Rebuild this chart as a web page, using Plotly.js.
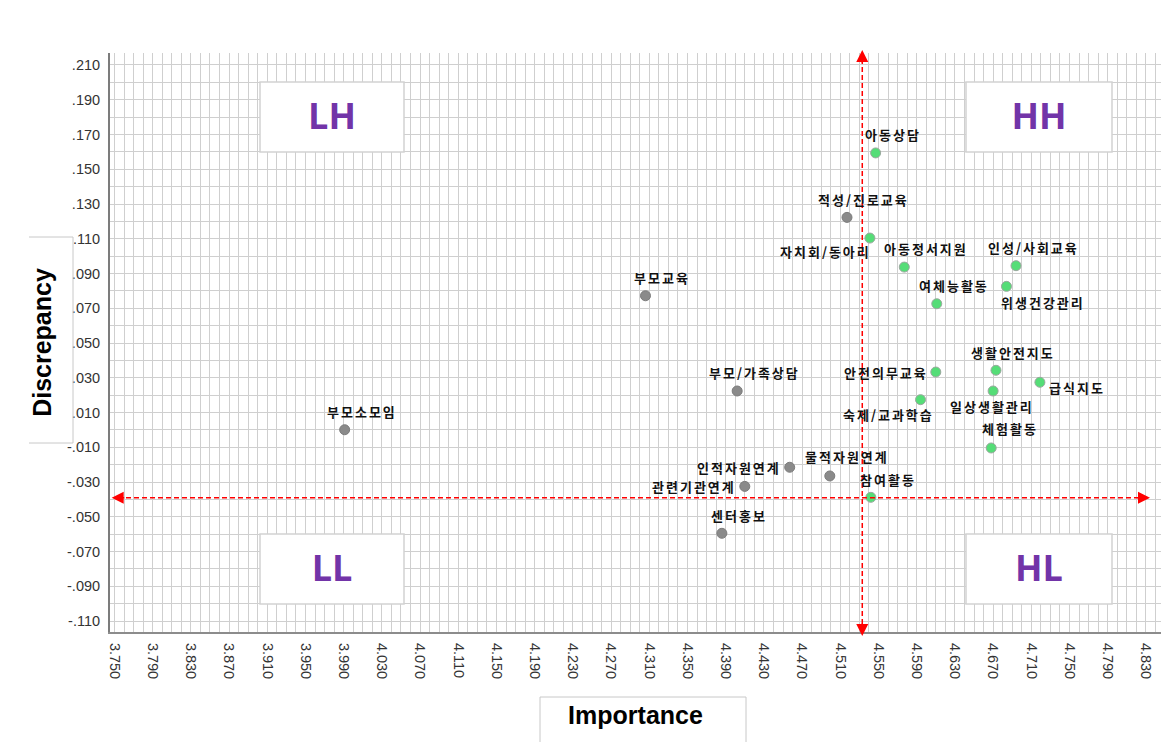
<!DOCTYPE html>
<html>
<head>
<meta charset="utf-8">
<script src="https://cdn.plot.ly/plotly-3.0.1.min.js"></script>
<style>
html,body{margin:0;padding:0;background:#fff;}
#chart{width:1161px;height:742px;}
text.annotation-text{letter-spacing:2px;}
</style>
</head>
<body>
<div id="chart"></div>
<script>
// ---- data ----
const names = ['아동상담','적성/진로교육','자치회/동아리','아동정서지원','인성/사회교육','위생건강관리','여체능활동',
  '부모교육','부모/가족상담','안전의무교육','생활안전지도','급식지도','일상생활관리','숙제/교과학습','체험활동',
  '부모소모임','인적자원연계','물적자원연계','관련기관연계','참여활동','센터홍보'];
const importance = [4.547,4.517,4.541,4.577,4.694,4.684,4.611,
  4.306,4.402,4.610,4.673,4.719,4.670,4.594,4.668,
  3.991,4.457,4.499,4.410,4.542,4.386];
const discrepancy = [0.1594,0.1223,0.1104,0.0937,0.0945,0.0826,0.0726,
  0.0772,0.0224,0.0333,0.0343,0.0274,0.0224,0.0174,-0.0104,
  0.0001,-0.0215,-0.0265,-0.0325,-0.0388,-0.0595];
const refImportance = 4.533;
const refDiscrepancy = -0.039;
const yTickVals = [0.21,0.19,0.17,0.15,0.13,0.11,0.09,0.07,0.05,0.03,0.01,-0.01,-0.03,-0.05,-0.07,-0.09,-0.11];
const yTickText = ['.210','.190','.170','.150','.130','.110','.090','.070','.050','.030','.010','-.010','-.030','-.050','-.070','-.090','-.110'];
const quadrantNames = ['LH','HH','LL','HL'];

// ---- label placement (pixels) ----
const labelPos = {
  '자치회/동아리': {a:'right', dx:3, dy:-13},
  '아동정서지원': {a:'center', dx:22, dy:19},
  '위생건강관리': {a:'left', dx:-7, dy:-16},
  '안전의무교육': {a:'right', dx:-6, dy:0},
  '급식지도': {a:'left', dx:7, dy:-5},
  '일상생활관리': {a:'center', dx:-1, dy:-16},
  '숙제/교과학습': {a:'right', dx:15, dy:-15},
  '체험활동': {a:'center', dx:19, dy:19},
  '인적자원연계': {a:'right', dx:-7, dy:0},
  '관련기관연계': {a:'right', dx:-7, dy:0},
  '물적자원연계': {a:'center', dx:17, dy:19}
};
const defaultPos = {a:'center', dx:17, dy:18};

// ---- layout geometry helpers ----
const W = 1161, H = 742, ML = 110, MT = 53, MB = 110, MR = 0;
const PW = W - ML - MR, PH = H - MT - MB;
const px = x => (x - ML) / PW;
const py = y => (H - MB - y) / PH;

const green = '#55dd77', gray = '#8a8a8a';
const colors = importance.map(v => v >= refImportance ? green : gray);
const lineColors = importance.map(v => v >= refImportance ? '#9aa89e' : '#7c7c7c');

const trace = {
  type: 'scatter', mode: 'markers',
  x: importance, y: discrepancy, text: names,
  marker: {size: 10, color: colors, line: {color: lineColors, width: 1}},
  hoverinfo: 'text+x+y', showlegend: false, cliponaxis: false
};

const annotations = names.map((n, i) => {
  const p = labelPos[n] || defaultPos;
  return {
    x: importance[i], y: discrepancy[i], xref: 'x', yref: 'y',
    text: n, showarrow: false, xanchor: p.a, yanchor: 'middle',
    xshift: p.dx, yshift: p.dy,
    font: {family: 'Noto Sans CJK KR', size: 13, color: '#111', weight: 'bold'}
  };
});

// arrowheads of reference lines
const arrowBase = {text: '', showarrow: true, arrowhead: 2, arrowsize: 1.6, arrowwidth: 1.5, arrowcolor: '#ff0000', axref: 'pixel', ayref: 'pixel', standoff: 0};
annotations.push(Object.assign({}, arrowBase, {x: refImportance, xref: 'x', y: py(50), yref: 'paper', ax: 0, ay: 14}));
annotations.push(Object.assign({}, arrowBase, {x: refImportance, xref: 'x', y: py(636), yref: 'paper', ax: 0, ay: -14}));
annotations.push(Object.assign({}, arrowBase, {x: px(111.7), xref: 'paper', y: refDiscrepancy, yref: 'y', ax: 14, ay: 0}));
annotations.push(Object.assign({}, arrowBase, {x: px(1150), xref: 'paper', y: refDiscrepancy, yref: 'y', ax: -14, ay: 0}));

const boxPix = {LH: [260, 82, 404, 152], HH: [966, 82, 1112, 152], LL: [260, 534, 404, 604], HL: [966, 534, 1112, 604]};
const shapes = [];
quadrantNames.forEach(q => {
  const b = boxPix[q];
  shapes.push({
    type: 'rect', xref: 'paper', yref: 'paper', layer: 'above',
    x0: px(b[0]), x1: px(b[2]), y0: py(b[3]), y1: py(b[1]),
    fillcolor: '#ffffff', line: {color: '#d2d2d2', width: 1.5},
    label: {text: q, textposition: 'middle center',
      font: {family: 'Open Sans', size: 36, color: '#7234a8', weight: 'bold'}}
  });
});
// reference dashed lines
shapes.push({type: 'line', xref: 'x', yref: 'paper', x0: refImportance, x1: refImportance, y0: py(632), y1: py(56),
  line: {color: '#ff0000', width: 1.5, dash: '5px,3px'}, layer: 'above'});
shapes.push({type: 'line', xref: 'paper', yref: 'y', x0: px(118), x1: px(1144), y0: refDiscrepancy, y1: refDiscrepancy,
  line: {color: '#ff0000', width: 1.5, dash: '5px,3px'}, layer: 'above'});
// axis title frames
const frame = {color: '#c8c8c8', width: 1};
shapes.push({type: 'line', xref: 'paper', yref: 'paper', x0: px(29), x1: px(73), y0: py(237), y1: py(237), line: frame});
shapes.push({type: 'line', xref: 'paper', yref: 'paper', x0: px(73), x1: px(73), y0: py(237), y1: py(443), line: frame});
shapes.push({type: 'line', xref: 'paper', yref: 'paper', x0: px(29), x1: px(73), y0: py(443), y1: py(443), line: frame});
shapes.push({type: 'line', xref: 'paper', yref: 'paper', x0: px(540), x1: px(746), y0: py(697), y1: py(697), line: frame});
shapes.push({type: 'line', xref: 'paper', yref: 'paper', x0: px(540), x1: px(540), y0: py(697), y1: py(745), line: frame});
shapes.push({type: 'line', xref: 'paper', yref: 'paper', x0: px(746), x1: px(746), y0: py(697), y1: py(745), line: frame});

const gridC = '#cfcfcf';
const tickFont = {family: 'Liberation Sans, Arial, sans-serif', size: 14.5, color: '#333'};
const layout = {
  width: W, height: H,
  margin: {l: ML, r: MR, t: MT, b: MB, pad: 0},
  paper_bgcolor: '#ffffff', plot_bgcolor: '#ffffff',
  showlegend: false,
  xaxis: {
    range: [3.7453, 4.8458], tickmode: 'linear', tick0: 3.75, dtick: 0.04, tickformat: '.3f',
    tickangle: 90, tickfont: tickFont, ticks: '', ticklabelstandoff: 6,
    showgrid: true, gridcolor: gridC, gridwidth: 1, zeroline: false,
    showline: true, linecolor: '#8c8c8c', linewidth: 2,
    minor: {tickmode: 'linear', tick0: 3.75, dtick: 0.01, showgrid: true, gridcolor: gridC, gridwidth: 1, ticks: ''},
    title: {text: 'Importance', font: {family: 'Liberation Sans, Arial, sans-serif', size: 25, color: '#000', weight: 'bold'}, standoff: 28},
    automargin: false, fixedrange: true
  },
  yaxis: {
    range: [-0.1163, 0.2169], tickmode: 'array', tickvals: yTickVals, ticktext: yTickText,
    tickfont: tickFont, ticks: '', ticklabelstandoff: 5,
    showgrid: true, gridcolor: gridC, gridwidth: 1, zeroline: false,
    showline: true, linecolor: '#7c7c7c', linewidth: 2,
    minor: {tickmode: 'linear', tick0: 0.21, dtick: 0.01, showgrid: true, gridcolor: gridC, gridwidth: 1, ticks: ''},
    title: {text: 'Discrepancy', font: {family: 'Liberation Sans, Arial, sans-serif', size: 25, color: '#000', weight: 'bold'}, standoff: 8},
    automargin: false, fixedrange: true
  },
  annotations: annotations,
  shapes: shapes
};

Plotly.newPlot('chart', [trace], layout, {displayModeBar: false, staticPlot: true});
</script>
</body>
</html>
